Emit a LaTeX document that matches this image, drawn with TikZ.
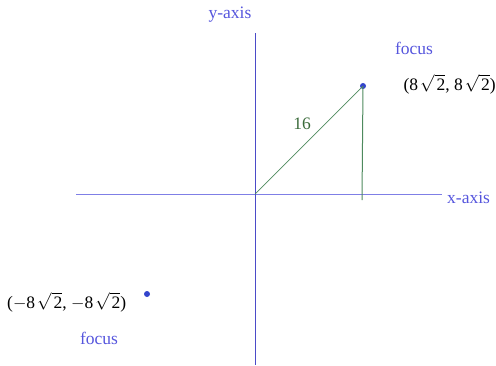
\documentclass[tikz,border=0pt]{standalone}
\usepackage{fontspec}
\setmainfont{Liberation Serif}
\definecolor{axisx}{HTML}{7F7FE6}
\definecolor{axisy}{HTML}{4B4BC8}
\definecolor{lbl}{HTML}{5555DD}
\definecolor{grn}{HTML}{4E8A5E}
\definecolor{dotc}{HTML}{3344CC}
\definecolor{sixteen}{HTML}{3B6B3B}
\newcommand{\rt}[1]{\kern2pt$\sqrt{\mbox{\kern2pt#1}}$}
\begin{document}
\begin{tikzpicture}[x=1pt,y=-1pt,
  every node/.style={font=\fontsize{17.5}{20}\selectfont, inner sep=0pt},
  lab/.style={text=lbl},
  dotst/.style={circle, fill=dotc, minimum size=6pt, inner sep=0pt}]
\useasboundingbox (0,0) rectangle (496,365);
\coordinate (O) at (255,194);
\coordinate (xl) at (76,194);
\coordinate (xr) at (442,194);
\coordinate (yt) at (255,33);
\coordinate (yb) at (255,365);
\coordinate (foot) at (362,200);
\draw[axisx, line width=1pt] (xl) -- (xr);
\draw[axisy, line width=1pt] (yt) -- (yb);
\node[dotst] (F1) at (363,86) {};
\node[dotst] (F2) at (147,294) {};
\draw[grn, line width=0.7pt] (O) -- (F1.center);
\draw[grn, line width=1pt] (F1.center) -- (foot);
\node[text=sixteen] (l16) at (302,124) {16};
\node[lab, anchor=west] (xlab) at (447,198) {x-axis};
\node[lab] (ylab) at (230,15) {y-axis};
\node[lab] (f1lab) at (414,48) {focus};
\node[anchor=east] (c1) at (496,84) {(8\rt{2}, 8\rt{2})};
\node[anchor=west] (c2) at (7,302) {($-$8\rt{2}, $-$8\rt{2})};
\node[lab] (f2lab) at (99,338) {focus};
\end{tikzpicture}
\end{document}
